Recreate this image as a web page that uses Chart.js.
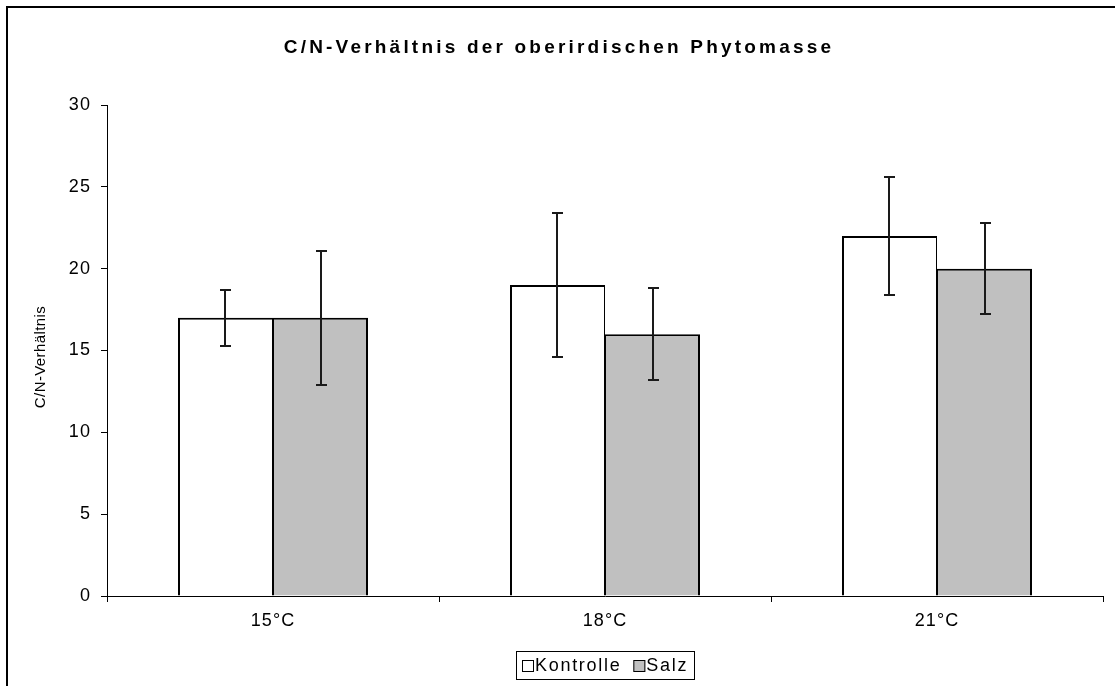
<!DOCTYPE html>
<html>
<head>
<meta charset="utf-8">
<script src="https://cdn.jsdelivr.net/npm/chart.js@4.4.1/dist/chart.umd.min.js"></script>
<style>
  html, body { margin: 0; padding: 0; background: #fff; overflow: hidden; width: 1115px; height: 686px; }
  #frame { position: absolute; left: 6px; top: 6px; width: 1200px; height: 800px; border: 2px solid #000; }
  #chart { position: absolute; left: 0; top: 0; }
</style>
</head>
<body>
<div id="frame"></div>
<canvas id="chart" width="1115" height="686"></canvas>
<script>
// C/N ratio of the above-ground phytomass, mean ± error per temperature
const titleText = 'C/N-Verhältnis der oberirdischen Phytomasse';
const yAxisTitle = 'C/N-Verhältnis';
const categories = ['15°C', '18°C', '21°C'];
const kontrolle = [17, 19, 22];
const kontrolleErr = [1.7, 4.4, 3.6];
const salz = [17, 16, 20];
const salzErr = [4.1, 2.8, 2.8];
const yTicks = [0, 5, 10, 15, 20, 25, 30];
const seriesNames = ['Kontrolle', 'Salz'];
const seriesColors = ['#ffffff', '#c0c0c0'];

const FONT = '"Liberation Sans", Arial, sans-serif';
const tickFont = { family: FONT, size: 18 };

// letter spacing for all canvas text
const spacingPlugin = {
  id: 'spacing',
  beforeDraw(chart) { chart.ctx.letterSpacing = '1.1px'; }
};

// vertical error bars with caps
const errorBarPlugin = {
  id: 'errorBars',
  afterDatasetsDraw(chart) {
    const ctx = chart.ctx;
    const yScale = chart.scales.y;
    const errs = [kontrolleErr, salzErr];
    ctx.save();
    ctx.strokeStyle = '#1a1a1a';
    ctx.lineWidth = 2;
    chart.data.datasets.forEach((ds, di) => {
      const meta = chart.getDatasetMeta(di);
      meta.data.forEach((bar, i) => {
        const v = ds.data[i];
        const e = errs[di][i];
        const x = Math.round(bar.x);
        const yTop = Math.round(yScale.getPixelForValue(v + e));
        const yBot = Math.round(yScale.getPixelForValue(v - e));
        ctx.beginPath();
        ctx.moveTo(x, yTop); ctx.lineTo(x, yBot);
        ctx.moveTo(x - 5, yTop); ctx.lineTo(x + 6, yTop);
        ctx.moveTo(x - 5, yBot); ctx.lineTo(x + 6, yBot);
        ctx.stroke();
      });
    });
    ctx.restore();
  }
};

// title, rotated axis title and boxed legend
const textPlugin = {
  id: 'texts',
  afterDraw(chart) {
    const ctx = chart.ctx;
    const area = chart.chartArea;
    ctx.save();
    ctx.fillStyle = '#000';
    ctx.textBaseline = 'middle';

    ctx.font = 'bold 19px ' + FONT;
    ctx.letterSpacing = '3.2px';
    ctx.textAlign = 'center';
    ctx.fillText(titleText, 559, 48);

    ctx.save();
    ctx.font = '15px ' + FONT;
    ctx.letterSpacing = '0.4px';
    ctx.translate(41, 357);
    ctx.rotate(-Math.PI / 2);
    ctx.fillText(yAxisTitle, 0, 0);
    ctx.restore();

    // legend
    ctx.font = '18px ' + FONT;
    ctx.letterSpacing = '1.7px';
    ctx.textAlign = 'left';
    const sw = 12, gap = 1, itemGap = 12, padX = 6;
    const widths = seriesNames.map(n => ctx.measureText(n).width);
    const total = padX * 2 + widths.reduce((a, w) => a + sw + gap + w, 0) + itemGap * (seriesNames.length - 1);
    const cx = (area.left + area.right) / 2;
    const left = Math.round(cx - total / 2);
    const top = 651, h = 28;
    ctx.strokeStyle = '#000';
    ctx.lineWidth = 1;
    ctx.strokeRect(left + 0.5, top + 0.5, Math.round(total), h);
    let x = left + padX;
    const mid = top + h / 2 + 1;
    seriesNames.forEach((n, i) => {
      ctx.fillStyle = seriesColors[i];
      ctx.fillRect(x, mid - 6, sw, sw);
      ctx.strokeStyle = '#000';
      ctx.strokeRect(x + 0.5, mid - 6 + 0.5, sw - 1, sw - 1);
      ctx.fillStyle = '#000';
      ctx.fillText(n, x + sw + gap, mid);
      x += sw + gap + widths[i] + itemGap;
    });
    ctx.restore();
  }
};

new Chart(document.getElementById('chart'), {
  type: 'bar',
  data: {
    labels: categories,
    datasets: [
      { label: seriesNames[0], data: kontrolle, backgroundColor: seriesColors[0], borderColor: '#000',
        borderWidth: { left: 2, top: 2, right: 1, bottom: 0 }, borderSkipped: 'start' },
      { label: seriesNames[1], data: salz, backgroundColor: seriesColors[1], borderColor: '#000',
        borderWidth: { left: 1, top: 2, right: 2, bottom: 0 }, borderSkipped: 'start' }
    ]
  },
  options: {
    responsive: false,
    animation: false,
    devicePixelRatio: 1,
    layout: { padding: { left: 0, right: 12, top: 105, bottom: 0 } },
    datasets: { bar: { barPercentage: 1, categoryPercentage: 0.5723 } },
    plugins: { legend: { display: false }, title: { display: false }, tooltip: { enabled: false } },
    scales: {
      x: {
        grid: { display: true, drawOnChartArea: false, offset: true, color: '#000', tickLength: 6 },
        border: { color: '#000', width: 1 },
        ticks: { color: '#000', font: tickFont, padding: 8, maxRotation: 0 },
        afterFit(s) { s.height = 90; }
      },
      y: {
        min: 0, max: 30,
        afterBuildTicks(s) { s.ticks = yTicks.map(v => ({ value: v })); },
        grid: { drawOnChartArea: false, color: '#000', tickLength: 6 },
        border: { color: '#000', width: 1 },
        ticks: { color: '#000', font: tickFont, padding: 10 },
        afterFit(s) { s.width = 107; }
      }
    }
  },
  plugins: [spacingPlugin, errorBarPlugin, textPlugin]
});
</script>
</body>
</html>
